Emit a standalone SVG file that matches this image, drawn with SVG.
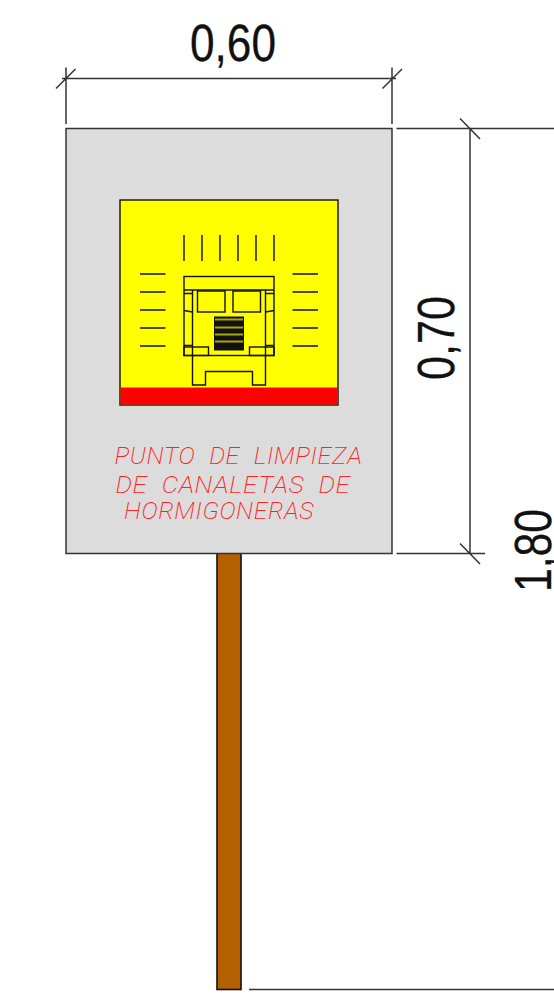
<svg xmlns="http://www.w3.org/2000/svg" width="554" height="994" viewBox="0 0 554 994">
<style>
.dim{stroke:#333;stroke-width:1.5;fill:none}
.k{stroke:#111;stroke-width:1.4;fill:none}
.n{font-family:"Liberation Sans",Arial,sans-serif;font-size:52px;fill:#111;stroke:#111;stroke-width:.3}
.r{font-family:"Roboto","Liberation Sans",sans-serif;font-weight:200;font-style:italic;font-size:24.500px;fill:#f22;word-spacing:7px;letter-spacing:.6px}
</style>
<rect width="554" height="994" fill="#fff"/>
<g id="post"><rect x="217" y="553" width="24" height="436.500" fill="#b45f00" stroke="#111" stroke-width="1.600"/></g>
<g id="sign">
<rect x="66" y="128.500" width="326" height="425" fill="#dcdcdc" stroke="#333" stroke-width="1.500"/>
<rect x="120" y="200" width="218" height="205" fill="#ff0" stroke="#111" stroke-width="1.400"/>
<rect x="120.500" y="387.500" width="217" height="17" fill="#f00"/>
</g>
<g id="truck">
<path class="k" d="M184 235v26M202 235v26M220 235v26M238 235v26M256 235v26M274 235v26"/>
<path class="k" d="M140 274h25.500M140 292h25.500M140 310h25.500M140 328h25.500M140 346h25.500M292.500 274h25.500M292.500 292h25.500M292.500 310h25.500M292.500 328h25.500M292.500 346h25.500"/>
<rect class="k" x="184" y="276.500" width="90" height="79"/>
<path class="k" d="M184 290H274M192.500 290V385H205.500V371.500H252.500V385H265.500V290M184 293.500H192.500M265.500 293.500H274M184 310.500L192.500 312M274 310.500L265.500 312M184 345.500H192.500M265.500 345.500H274"/>
<rect class="k" x="197.500" y="291" width="27.500" height="21"/>
<rect class="k" x="233" y="291" width="27.500" height="21"/>
<rect class="k" x="184" y="347" width="24.500" height="8.500"/>
<rect class="k" x="249.500" y="347" width="24.500" height="8.500"/>
<rect x="214" y="316.500" width="30" height="34" fill="#111"/>
<path d="M215 319.500h28M215 327.500h28M215 334.500h28M215 341.500h28" stroke="#a8a800" stroke-width="2" fill="none"/>
</g>
<g id="sign-text">
<text class="r" x="114.500" y="463.500" textLength="248" lengthAdjust="spacingAndGlyphs">PUNTO DE LIMPIEZA</text>
<text class="r" x="115.500" y="492.500" textLength="235" lengthAdjust="spacingAndGlyphs">DE CANALETAS DE</text>
<text class="r" x="124" y="518.500" textLength="190" lengthAdjust="spacingAndGlyphs">HORMIGONERAS</text>
</g>
<g id="connectors">
<path class="dim" d="M66 67.500V124M392 67.500V124M62 78.500H396M56 88.500L75.500 69M382.500 88.500L402 69"/>
<path class="dim" d="M396.500 128.500H554M396.500 553.500H485M470 128V553.500M460 118.500L480 139M460 543.500L480 564M249 989.500H554"/>
</g>
<g id="dimension-labels">
<text class="n" x="190" y="60.500" textLength="86" lengthAdjust="spacingAndGlyphs">0,60</text>
<text class="n" transform="translate(454 380) rotate(-90)" textLength="84" lengthAdjust="spacingAndGlyphs">0,70</text>
<text class="n" transform="translate(551 592) rotate(-90)" textLength="83" lengthAdjust="spacingAndGlyphs">1,80</text>
</g>
</svg>
